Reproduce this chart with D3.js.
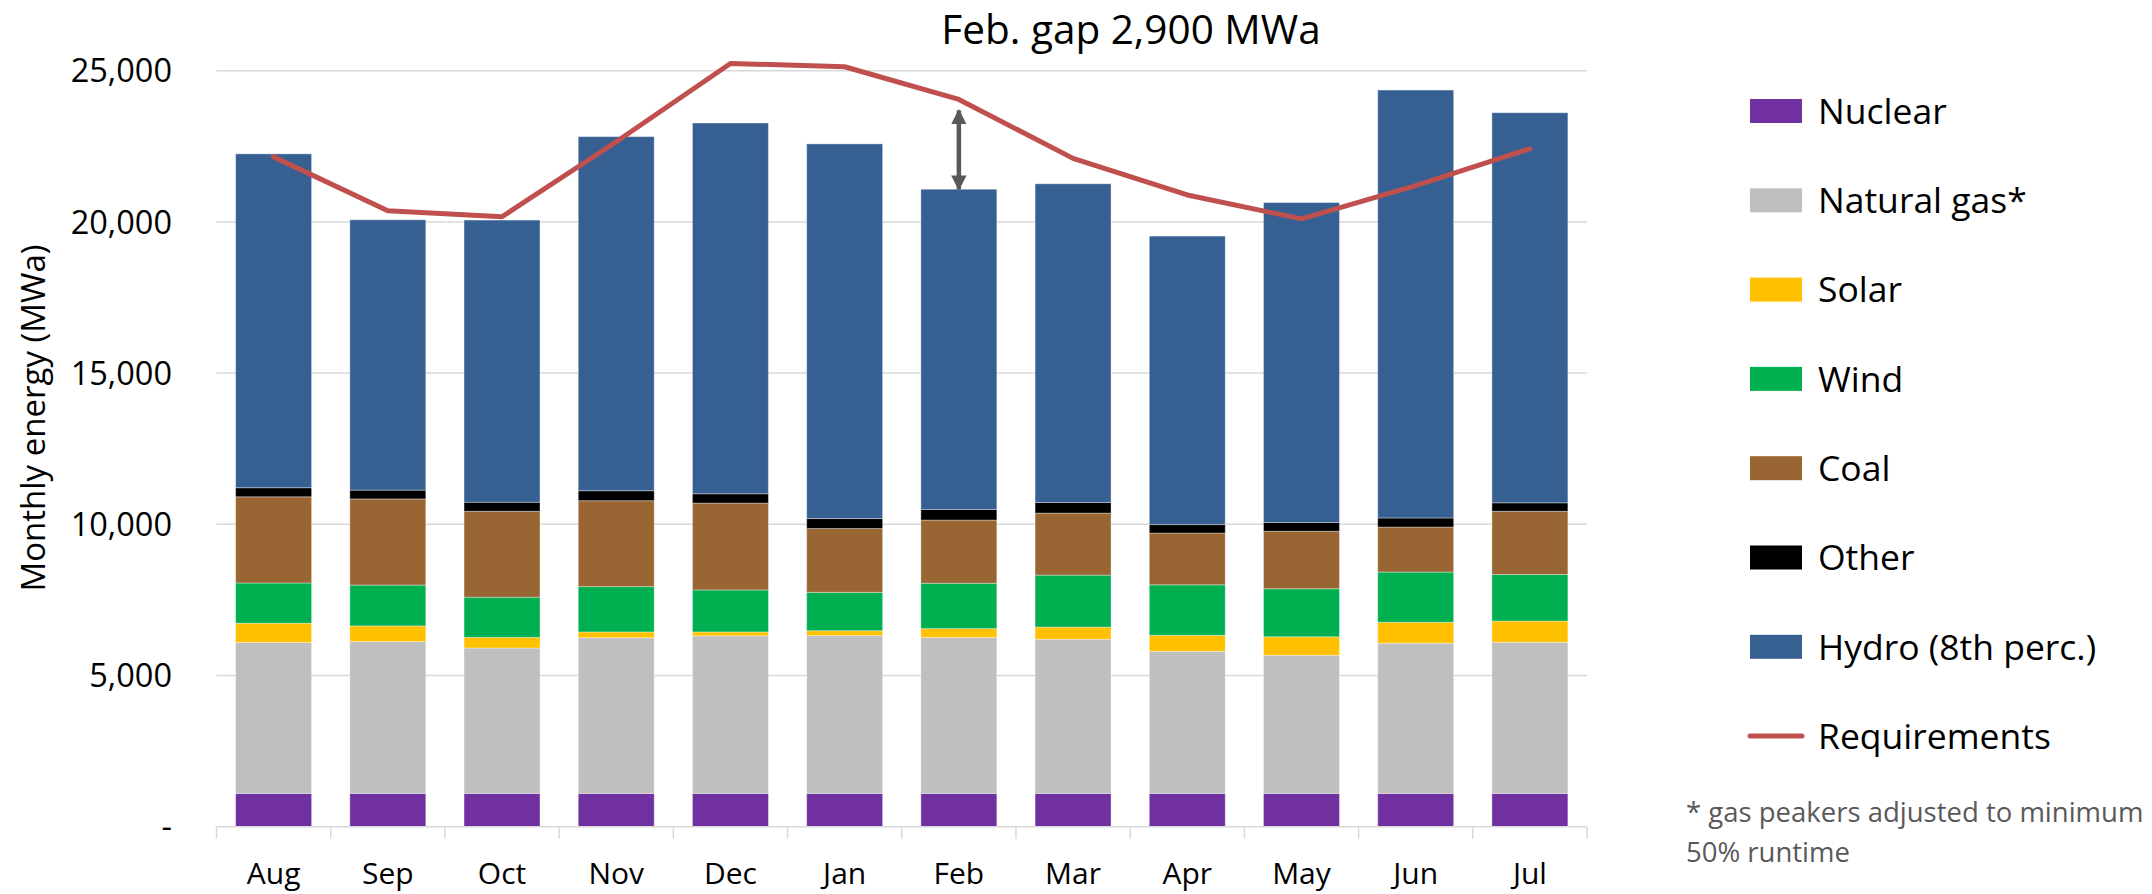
<!DOCTYPE html>
<html>
<head>
<meta charset="utf-8">
<script src="https://cdn.jsdelivr.net/npm/d3@7"></script>
<style>
  html, body { margin: 0; padding: 0; background: #ffffff; }
  svg { display: block; font-family: "Open Sans", Lato, sans-serif; }
</style>
</head>
<body>
<svg id="chart" width="2152" height="894"></svg>
<script>
// ---- data ----
const months = ["Aug","Sep","Oct","Nov","Dec","Jan","Feb","Mar","Apr","May","Jun","Jul"];
const seriesNames = ["Nuclear","Natural gas*","Solar","Wind","Coal","Other","Hydro (8th perc.)"];
const nuclear  = [1100,1100,1100,1100,1100,1100,1100,1100,1100,1100,1100,1100];
const naturalGas = [4990,5020,4810,5150,5210,5220,5160,5100,4700,4570,4970,5000];
const solar    = [640,520,350,190,130,160,290,400,530,610,690,700];
const wind     = [1330,1350,1330,1500,1390,1270,1500,1720,1670,1590,1660,1540];
const coal     = [2850,2850,2840,2840,2870,2110,2090,2050,1710,1900,1490,2090];
const other    = [300,290,300,330,310,330,350,350,280,290,300,280];
const hydro    = [11040,8940,9330,11710,12260,12390,10590,10540,9540,10580,14150,12900];
const requirements = [22150,20370,20170,22650,25240,25130,24050,22100,20890,20100,21200,22420];
const yTicks = [0,5000,10000,15000,20000,25000];
const yTickLabels = ["-","5,000","10,000","15,000","20,000","25,000"];
const titleText = "Feb. gap 2,900 MWa";
const gapMonth = "Feb";
const yTitle = "Monthly energy (MWa)";
const footnote = ["* gas peakers adjusted to minimum", "50% runtime"];
const colors = ["#7030A0","#BFBFBF","#FFC000","#00B050","#996633","#000000","#376092"];
const lineColor = "#C0504D";

// ---- layout ----
const svg = d3.select("#chart");
const plot = { left: 216.5, right: 1587, top: 70.7, bottom: 826.7 };

const x = d3.scaleBand().domain(months).range([plot.left, plot.right]).padding(0);
const y = d3.scaleLinear().domain([0, 25000]).range([plot.bottom, plot.top]);
const barRatio = 0.665;
const barW = x.bandwidth() * barRatio;
const barX = m => x(m) + (x.bandwidth() - barW) / 2;
const cx = m => x(m) + x.bandwidth() / 2;

// gridlines
svg.append("g").selectAll("line").data(yTicks.filter(d => d > 0)).join("line")
  .attr("x1", plot.left).attr("x2", plot.right)
  .attr("y1", d => y(d)).attr("y2", d => y(d))
  .attr("stroke", "#D9D9D9").attr("stroke-width", 1.5);

// y tick labels
svg.append("g").selectAll("text").data(yTicks).join("text")
  .attr("x", 172).attr("y", d => y(d)).attr("dy", "0.36em")
  .attr("text-anchor", "end").attr("font-size", 32.5).attr("fill", "#000")
  .text((d, i) => yTickLabels[i]);

// stacked bars
const table = months.map((m, i) => ({
  month: m,
  [seriesNames[0]]: nuclear[i], [seriesNames[1]]: naturalGas[i], [seriesNames[2]]: solar[i],
  [seriesNames[3]]: wind[i], [seriesNames[4]]: coal[i], [seriesNames[5]]: other[i], [seriesNames[6]]: hydro[i]
}));
const stack = d3.stack().keys(seriesNames)(table);
const gBars = svg.append("g");
stack.forEach((layer, li) => {
  gBars.append("g").attr("fill", colors[li]).selectAll("rect").data(layer).join("rect")
    .attr("x", d => barX(d.data.month))
    .attr("width", barW)
    .attr("y", d => y(d[1]))
    .attr("height", d => y(d[0]) - y(d[1]))
    .attr("stroke", "#ffffff").attr("stroke-opacity", 0.35).attr("stroke-width", 1);
});

// x axis line and ticks
const xAxis = svg.append("g").attr("transform", `translate(0,${plot.bottom})`);
xAxis.append("line").attr("x1", plot.left).attr("x2", plot.right)
  .attr("stroke", "#D9D9D9").attr("stroke-width", 1.5);
const boundaries = months.map(m => x(m)).concat([plot.right]);
xAxis.selectAll("line.tk").data(boundaries).join("line").attr("class", "tk")
  .attr("x1", d => d).attr("x2", d => d).attr("y1", 0).attr("y2", 12)
  .attr("stroke", "#D9D9D9").attr("stroke-width", 1.5);
svg.append("g").selectAll("text").data(months).join("text")
  .attr("x", d => cx(d)).attr("y", 884)
  .attr("text-anchor", "middle").attr("font-size", 30).attr("fill", "#000")
  .text(d => d);

// requirements line
const line = d3.line().x((d, i) => cx(months[i])).y(d => y(d));
svg.append("path").datum(requirements).attr("d", line)
  .attr("fill", "none").attr("stroke", lineColor).attr("stroke-width", 5)
  .attr("stroke-linejoin", "round").attr("stroke-linecap", "round");

// gap arrow (Feb)
const gi = months.indexOf(gapMonth);
const gapTop = nuclear[gi] + naturalGas[gi] + solar[gi] + wind[gi] + coal[gi] + other[gi] + hydro[gi];
const ax = cx(gapMonth);
const aTop = y(requirements[gi]) + 11;
const aBot = y(gapTop);
const defs = svg.append("defs");
defs.append("marker").attr("id", "ah").attr("viewBox", "0 0 10 10")
  .attr("refX", 9).attr("refY", 5).attr("markerWidth", 3.4).attr("markerHeight", 3.4)
  .attr("markerUnits", "strokeWidth").attr("orient", "auto-start-reverse")
  .append("path").attr("d", "M0,0 L10,5 L0,10 Z").attr("fill", "#595959");
svg.append("line").attr("x1", ax).attr("x2", ax).attr("y1", aTop).attr("y2", aBot)
  .attr("stroke", "#595959").attr("stroke-width", 4.5)
  .attr("marker-start", "url(#ah)").attr("marker-end", "url(#ah)");

// title
svg.append("text").attr("x", 1131).attr("y", 44).attr("text-anchor", "middle")
  .attr("font-size", 40.5).attr("fill", "#000").text(titleText);

// y axis title
svg.append("text").attr("transform", "translate(45,418) rotate(-90)")
  .attr("text-anchor", "middle").attr("font-size", 33).attr("fill", "#000").text(yTitle);

// legend
const legend = svg.append("g");
const legY = i => 111 + i * 89.3;
seriesNames.forEach((n, i) => {
  legend.append("rect").attr("x", 1750).attr("y", legY(i) - 12).attr("width", 52).attr("height", 24)
    .attr("fill", colors[i]);
  legend.append("text").attr("x", 1818).attr("y", legY(i)).attr("dy", "0.36em")
    .attr("font-size", 35.5).attr("fill", "#000").text(n);
});
const ri = seriesNames.length;
legend.append("line").attr("x1", 1750).attr("x2", 1802).attr("y1", legY(ri)).attr("y2", legY(ri))
  .attr("stroke", lineColor).attr("stroke-width", 5).attr("stroke-linecap", "round");
legend.append("text").attr("x", 1818).attr("y", legY(ri)).attr("dy", "0.36em")
  .attr("font-size", 35.5).attr("fill", "#000").text("Requirements");

// footnote
svg.append("g").selectAll("text").data(footnote).join("text")
  .attr("x", 1686).attr("y", (d, i) => 822 + i * 40)
  .attr("font-size", 27.5).attr("fill", "#595959").text(d => d);
</script>
</body>
</html>
